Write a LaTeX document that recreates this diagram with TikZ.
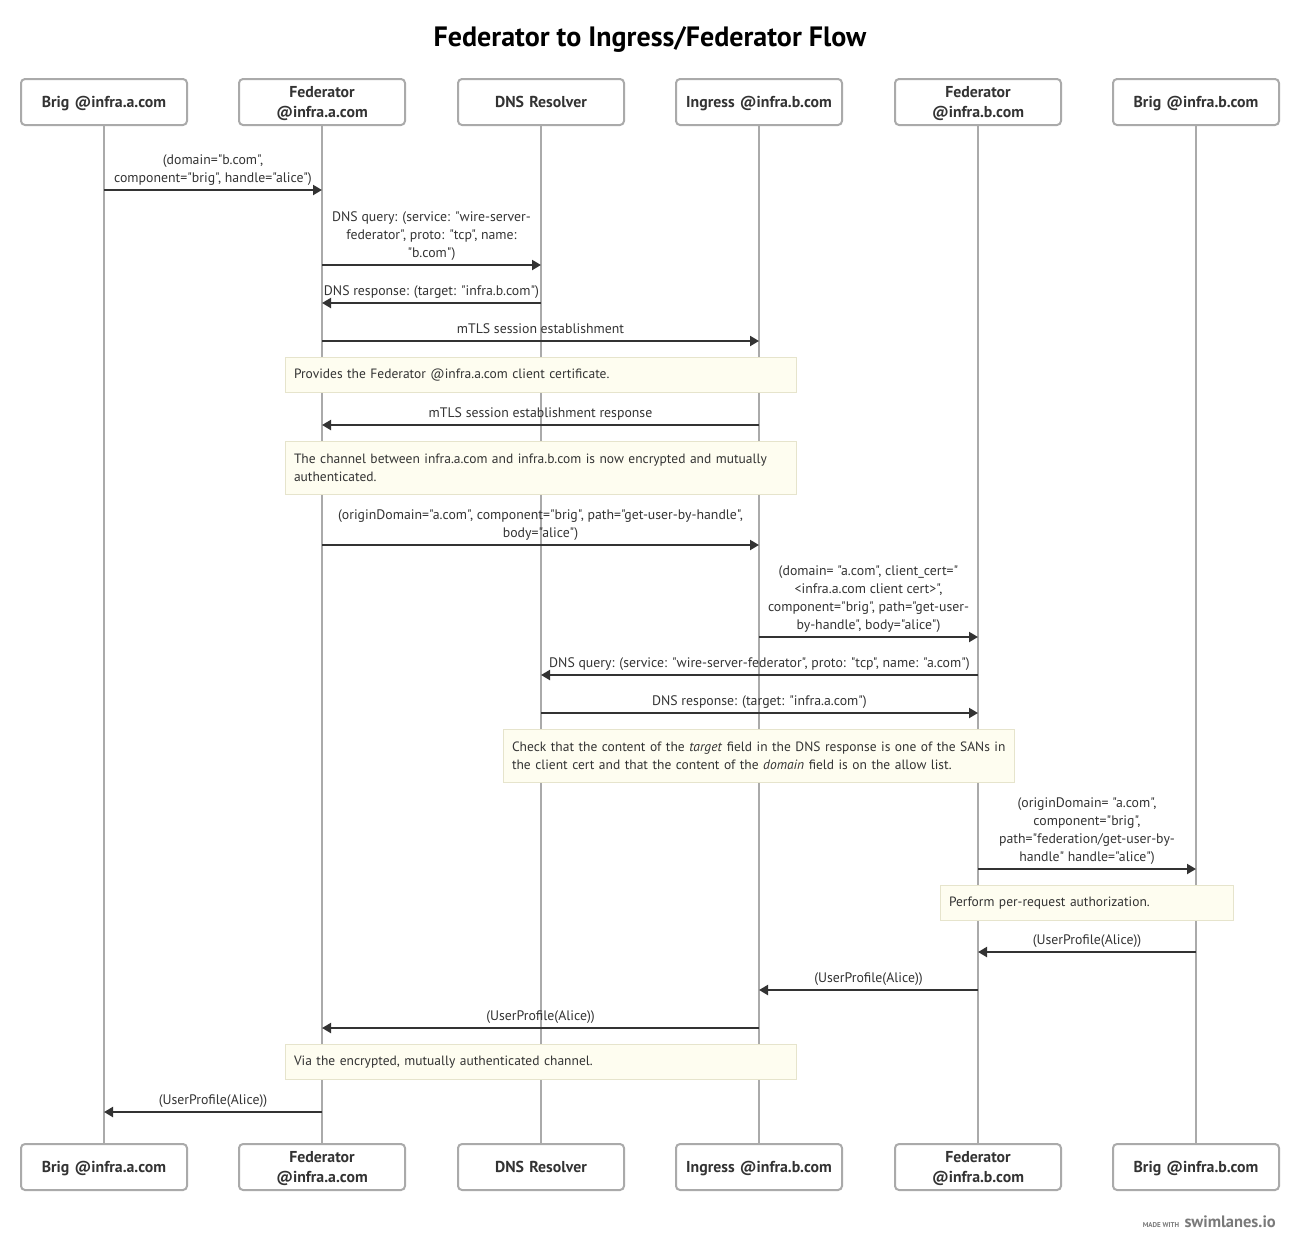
\documentclass[tikz,border=0pt]{standalone}
\usepackage{fontspec}
\setmainfont{PT Sans}[Ligatures=TeXOff]
\usetikzlibrary{arrows.meta}
\definecolor{ink}{HTML}{333333}
\definecolor{lane}{HTML}{AAAAAA}
\definecolor{notefill}{HTML}{FEFDF0}
\definecolor{noteline}{HTML}{E6E4CC}
\definecolor{credit}{HTML}{7A7A7A}
\newcommand*\msg[5]{% y, from, to, name, label
  \draw[msg] (#2 |- 0,#1) -- (#3 |- 0,#1)
    node[msglabel, midway] (#4) {#5};}

\begin{document}
\begin{tikzpicture}[x=1pt, y=-1pt,
    actor/.style={draw=lane, line width=2pt, rounded corners=4pt, fill=white,
      minimum width=166pt, minimum height=46pt, text width=160pt, align=center,
      inner sep=0pt, text depth=0pt, text=ink, font=\fontsize{15.8}{20}\selectfont\bfseries},
    actor2/.style={actor, text depth=20pt},
    lifeline/.style={draw=lane, line width=2pt},
    msg/.style={draw=ink, line width=2pt, -{Triangle[length=9pt,width=10pt]}},
    msglabel/.style={anchor=south, inner sep=0pt, text depth=4pt, yshift=2.5pt, align=center,
      text=ink, font=\fontsize{13.8}{18}\selectfont},
    note/.style={draw=noteline, fill=notefill, line width=1pt, anchor=north west,
      inner xsep=8.5pt, inner ysep=0pt, align=left, text=ink,
      font=\fontsize{13.5}{18}\selectfont}]
        \useasboundingbox (0,0) rectangle (1300,1251);

        \node[text=black, font=\fontsize{28}{32}\selectfont\bfseries] (title) at (650,39)
            {Federator to Ingress/Federator Flow};

        % participants, top and bottom
        \node[actor] (ba) at (104,102) {Brig @infra.a.com};
        \node[actor2] (fa) at (322,102) {Federator\\@infra.a.com};
        \node[actor] (dns) at (541,102) {DNS Resolver};
        \node[actor] (ing) at (759,102) {Ingress @infra.b.com};
        \node[actor2] (fb) at (978,102) {Federator\\@infra.b.com};
        \node[actor] (bb) at (1196,102) {Brig @infra.b.com};
        \node[actor] (ba2) at (104,1167) {Brig @infra.a.com};
        \node[actor2] (fa2) at (322,1167) {Federator\\@infra.a.com};
        \node[actor] (dns2) at (541,1167) {DNS Resolver};
        \node[actor] (ing2) at (759,1167) {Ingress @infra.b.com};
        \node[actor2] (fb2) at (978,1167) {Federator\\@infra.b.com};
        \node[actor] (bb2) at (1196,1167) {Brig @infra.b.com};

        \foreach \p in {ba,fa,dns,ing,fb,bb}
            \draw[lifeline] (\p.south) -- (\p2.north);

        % messages
        \msg{190}{ba}{fa}{m1}{(domain="b.com",\\component="brig", handle="alice")}
        \msg{265}{fa}{dns}{m2}{DNS query: (service: "wire-server-\\federator", proto: "tcp", name:\\"b.com")}
        \msg{303}{dns}{fa}{m3}{DNS response: (target: "infra.b.com")}
        \msg{341}{fa}{ing}{m4}{mTLS session establishment}
        \node[note, minimum width=511pt, minimum height=35pt, text width=494pt] (n1) at (285,357)
            {Provides the Federator @infra.a.com client certificate.};
        \msg{425}{ing}{fa}{m5}{mTLS session establishment response}
        \node[note, minimum width=511pt, minimum height=53pt, text width=494pt] (n2) at (285,441)
            {The channel between infra.a.com and infra.b.com is now encrypted and mutually\\authenticated.};
        \msg{545}{fa}{ing}{m6}{(originDomain="a.com", component="brig", path="get-user-by-handle",\\body="alice")}
        \msg{637}{ing}{fb}{m7}{(domain= "a.com", client\_cert="\\<infra.a.com client cert>",\\component="brig", path="get-user-\\by-handle", body="alice")}
        \msg{675}{fb}{dns}{m8}{DNS query: (service: "wire-server-federator", proto: "tcp", name: "a.com")}
        \msg{713}{dns}{fb}{m9}{DNS response: (target: "infra.a.com")}
        \node[note, minimum width=511pt, minimum height=53pt, text width=494pt] (n3) at (503,729)
            {\mbox{Check that the content of the \textit{target} field in the DNS response is one of the SANs in}\\the client cert and that the content of the \textit{domain} field is on the allow list.};
        \msg{869}{fb}{bb}{m10}{(originDomain= "a.com",\\component="brig",\\path="federation/get-user-by-\\handle" handle="alice")}
        \node[note, minimum width=293pt, minimum height=35pt, text width=276pt] (n4) at (940,885)
            {Perform per-request authorization.};
        \msg{952}{bb}{fb}{m11}{(UserProfile(Alice))}
        \msg{990}{fb}{ing}{m12}{(UserProfile(Alice))}
        \msg{1028}{ing}{fa}{m13}{(UserProfile(Alice))}
        \node[note, minimum width=511pt, minimum height=35pt, text width=494pt] (n5) at (285,1044)
            {Via the encrypted, mutually authenticated channel.};
        \msg{1112}{fa}{ba}{m14}{(UserProfile(Alice))}

        % footer
        \node[anchor=base east, inner sep=0pt, text=credit, font=\fontsize{16.5}{18}\selectfont\bfseries] (brand) at (1276,1227)
            {swimlanes.io};
        \node[anchor=base east, inner sep=0pt, xshift=-5pt, text=credit, font=\fontsize{7}{8}\selectfont\bfseries] (made) at (brand.base west)
            {MADE WITH};
\end{tikzpicture}
\end{document}
